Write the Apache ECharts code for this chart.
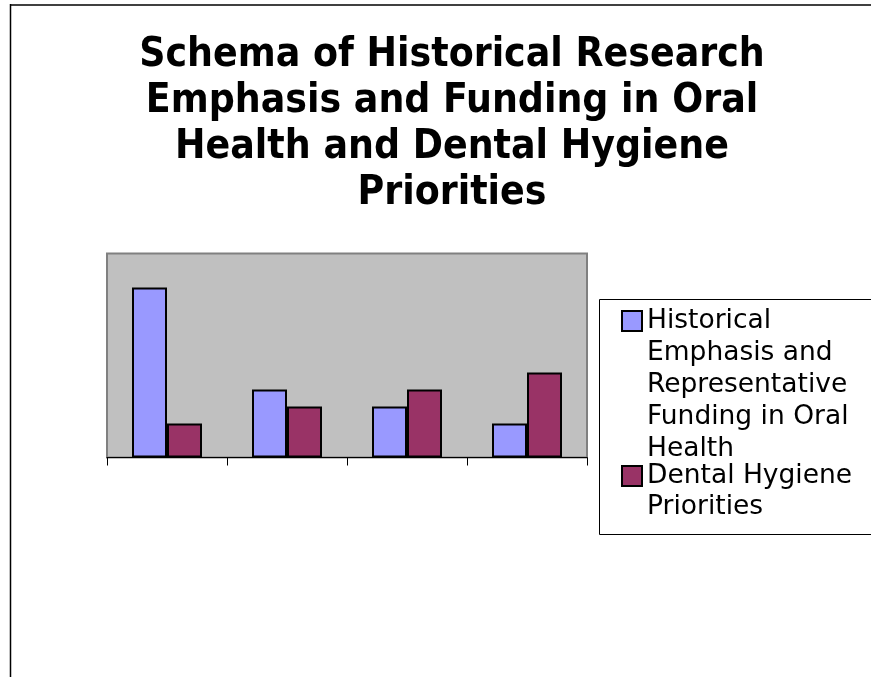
<!DOCTYPE html>
<html>
<head>
<meta charset="utf-8">
<script src="https://cdn.jsdelivr.net/npm/echarts@6/dist/echarts.min.js"></script>
<style>
html,body{margin:0;padding:0;background:#fff;}
#chart{width:871px;height:677px;}
</style>
</head>
<body>
<div id="chart"></div>
<script>
const titleText = "Schema of Historical Research\nEmphasis and Funding in Oral\nHealth and Dental Hygiene\nPriorities";
const categories = ["1", "2", "3", "4"];
const seriesNames = ["Historical Emphasis and Representative Funding in Oral Health", "Dental Hygiene Priorities"];
const legendLabels = ["Historical\nEmphasis and\nRepresentative\nFunding in Oral\nHealth", "Dental Hygiene\nPriorities"];
const historicalValues = [10, 4, 3, 2];
const dentalValues = [2, 3, 4, 5];
const yMin = 0;
const yMax = 12;

const chart = echarts.init(document.getElementById('chart'), null, {renderer: 'canvas'});

// Legend text is centred on its icon; blank leading lines put the first
// line of text level with the icon, as in the reference.
function legendFor(idx, top, lh) {
  const nLines = legendLabels[idx].split('\n').length;
  const label = '\n'.repeat(nLines - 1) + legendLabels[idx];
  return {
    orient: 'vertical',
    left: 621,
    top: top,
    padding: 0,
    itemWidth: 20,
    itemHeight: 20,
    icon: 'rect',
    selectedMode: false,
    data: [seriesNames[idx]],
    formatter: function () { return label; },
    itemStyle: {borderColor: '#000', borderWidth: 2},
    textStyle: {
      fontFamily: '"DejaVu Sans", Verdana, sans-serif',
      fontSize: 26.5,
      lineHeight: lh,
      color: '#000'
    }
  };
}

const option = {
  backgroundColor: '#fff',
  animation: false,
  title: {
    text: titleText,
    left: 447,
    top: 27,
    textAlign: 'center',
    textStyle: {
      fontFamily: '"DejaVu Sans Condensed", "DejaVu Sans", Verdana, sans-serif',
      fontWeight: 'bold',
      fontSize: 40.5,
      lineHeight: 46,
      color: '#000'
    }
  },
  graphic: [
    {type: 'line', z: 0, shape: {x1: 10, y1: 5, x2: 871, y2: 5}, style: {stroke: '#404040', lineWidth: 2}},
    {type: 'line', z: 0, shape: {x1: 10.5, y1: 4, x2: 10.5, y2: 677}, style: {stroke: '#000', lineWidth: 1.5}},
    {type: 'rect', z: 0, shape: {x: 599.5, y: 299.5, width: 300, height: 235}, style: {fill: '#fff', stroke: '#000', lineWidth: 1}}
  ],
  legend: [
    legendFor(0, 321 - 4.5 * 32, 32),
    legendFor(1, 476 - 1.5 * 31, 31)
  ],
  grid: {
    left: 107,
    top: 253.5,
    right: 284,
    bottom: 219.5,
    show: true,
    backgroundColor: '#C0C0C0',
    borderColor: '#808080',
    borderWidth: 2,
    containLabel: false
  },
  xAxis: {
    type: 'category',
    data: categories,
    axisLine: {show: true, lineStyle: {color: '#000', width: 1}},
    axisTick: {show: true, length: 8, lineStyle: {color: '#000', width: 1}},
    axisLabel: {show: false},
    splitLine: {show: false}
  },
  yAxis: {
    type: 'value',
    min: yMin,
    max: yMax,
    axisLine: {show: false},
    axisTick: {show: false},
    axisLabel: {show: false},
    splitLine: {show: false}
  },
  series: [
    {
      name: seriesNames[0],
      type: 'bar',
      data: historicalValues,
      barWidth: 35,
      barGap: '0%',
      itemStyle: {color: '#9999FF', borderColor: '#000', borderWidth: 2}
    },
    {
      name: seriesNames[1],
      type: 'bar',
      data: dentalValues,
      barWidth: 35,
      barGap: '0%',
      itemStyle: {color: '#993366', borderColor: '#000', borderWidth: 2}
    }
  ]
};
chart.setOption(option);
</script>
</body>
</html>
